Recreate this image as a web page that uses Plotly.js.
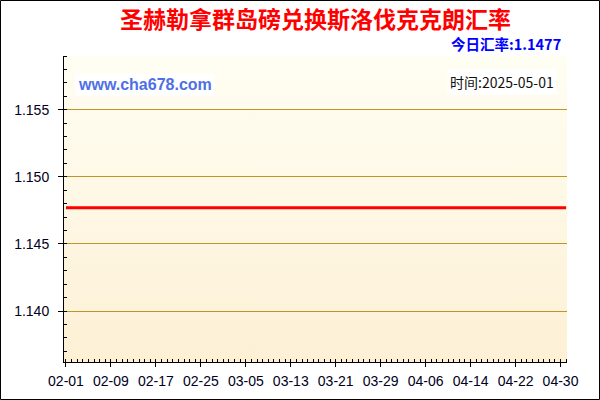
<!DOCTYPE html>
<html>
<head>
<meta charset="utf-8">
<script src="https://cdn.plot.ly/plotly-3.0.1.min.js"></script>
<style>
  body { margin: 0; padding: 0; background: #fff; }
  #myDiv { width: 600px; height: 400px; }
</style>
</head>
<body>
<div id="myDiv"></div>
<script>
// daily rate, 2025-02-01 .. 2025-05-01
var startDate = '2025-02-01';
var rates = [
  1.1477, 1.1477, 1.1477, 1.1477, 1.1477, 1.1477, 1.1477, 1.1477, 1.1477, 1.1477,
  1.1477, 1.1477, 1.1477, 1.1477, 1.1477, 1.1477, 1.1477, 1.1477, 1.1477, 1.1477,
  1.1477, 1.1477, 1.1477, 1.1477, 1.1477, 1.1477, 1.1477, 1.1477, 1.1477, 1.1477,
  1.1477, 1.1477, 1.1477, 1.1477, 1.1477, 1.1477, 1.1477, 1.1477, 1.1477, 1.1477,
  1.1477, 1.1477, 1.1477, 1.1477, 1.1477, 1.1477, 1.1477, 1.1477, 1.1477, 1.1477,
  1.1477, 1.1477, 1.1477, 1.1477, 1.1477, 1.1477, 1.1477, 1.1477, 1.1477, 1.1477,
  1.1477, 1.1477, 1.1477, 1.1477, 1.1477, 1.1477, 1.1477, 1.1477, 1.1477, 1.1477,
  1.1477, 1.1477, 1.1477, 1.1477, 1.1477, 1.1477, 1.1477, 1.1477, 1.1477, 1.1477,
  1.1477, 1.1477, 1.1477, 1.1477, 1.1477, 1.1477, 1.1477, 1.1477, 1.1477, 1.1477
];
var yTicks = [1.140, 1.145, 1.150, 1.155];
var chartTitle = '圣赫勒拿群岛磅兑换斯洛伐克克朗汇率';
var todayRate = '今日汇率:1.1477';
var siteText = 'www.cha678.com';
var timeText = '时间:2025-05-01';

var DAY = 86400000;
var t0 = new Date(startDate + 'T00:00:00Z').getTime();
var dates = rates.map(function (v, i) {
  return new Date(t0 + i * DAY).toISOString().slice(0, 10);
});

var xRange = ['2025-01-31 15:30', '2025-05-01 03:40'];
var yRange = [1.1362, 1.1590];

var bgSvg = '<svg xmlns="http://www.w3.org/2000/svg" width="10" height="100" preserveAspectRatio="none">' +
  '<defs><linearGradient id="g" x1="0" y1="0" x2="0" y2="1">' +
  '<stop offset="0" stop-color="#fffef3"/><stop offset="1" stop-color="#fdf0d5"/>' +
  '</linearGradient></defs><rect width="10" height="100" fill="url(#g)"/></svg>';

var tickFont = {family: 'Liberation Sans, Arial, sans-serif', size: 14, color: '#000022'};

var data = [{
  x: dates,
  y: rates,
  type: 'scatter',
  mode: 'lines',
  line: {color: '#ff0000', width: 3},
  hoverinfo: 'x+y'
}];

// bare axes on top / right, ticks pointing in
var xTop = {
  type: 'date', range: xRange, overlaying: 'x', side: 'top', anchor: 'y',
  tick0: startDate, dtick: 8 * DAY, ticks: 'inside', ticklen: 4, tickcolor: '#000',
  showticklabels: false, showgrid: false, zeroline: false,
  showline: true, linecolor: '#000', linewidth: 1,
  minor: {dtick: DAY, tick0: startDate, ticks: 'inside', ticklen: 3, tickcolor: '#000', showgrid: false}
};
var yRight = {
  range: yRange, overlaying: 'y', side: 'right', anchor: 'x',
  tickvals: yTicks, ticks: 'inside', ticklen: 5, tickcolor: '#000',
  showticklabels: false, showgrid: false, zeroline: false,
  showline: true, linecolor: '#000', linewidth: 1,
  minor: {dtick: 0.001, tick0: 1.140, ticks: 'inside', ticklen: 3, tickcolor: '#000', showgrid: false}
};

var layout = {
  width: 600,
  height: 400,
  margin: {l: 64, r: 33, t: 56, b: 38, pad: 0},
  paper_bgcolor: '#ffffff',
  plot_bgcolor: 'rgba(0,0,0,0)',
  showlegend: false,
  title: {
    text: chartTitle,
    font: {family: 'Noto Sans CJK SC, sans-serif', size: 23, color: '#ff0000', weight: 'bold'},
    x: 0.5, xref: 'paper', xanchor: 'center',
    y: 0.95, yref: 'container', yanchor: 'middle'
  },
  xaxis: {
    type: 'date',
    range: xRange,
    tick0: startDate,
    dtick: 8 * DAY,
    tickformat: '%m-%d',
    ticks: 'outside',
    ticklen: 4,
    tickcolor: '#000',
    showgrid: false,
    zeroline: false,
    showline: true,
    linecolor: '#000',
    linewidth: 1,
    tickfont: tickFont,
    ticklabelstandoff: 2,
    minor: {dtick: DAY, tick0: startDate, ticks: 'inside', ticklen: 3, tickcolor: '#000', showgrid: false}
  },
  yaxis: {
    range: yRange,
    tickvals: yTicks,
    tickformat: '.3f',
    ticks: 'outside',
    ticklen: 5,
    tickcolor: '#000',
    showgrid: true,
    gridcolor: '#c09428',
    gridwidth: 1,
    zeroline: false,
    showline: true,
    linecolor: '#000',
    linewidth: 1,
    tickfont: tickFont,
    ticklabelstandoff: 6,
    minor: {dtick: 0.001, tick0: 1.140, ticks: 'inside', ticklen: 3, tickcolor: '#000', showgrid: false}
  },
  xaxis2: xTop,
  yaxis2: yRight,
  images: [{
    source: 'data:image/svg+xml;charset=utf-8,' + encodeURIComponent(bgSvg),
    xref: 'paper', yref: 'paper',
    x: 0, y: 1, sizex: 1, sizey: 1,
    xanchor: 'left', yanchor: 'top',
    sizing: 'stretch',
    layer: 'below'
  }],
  shapes: [{
    type: 'rect', xref: 'paper', yref: 'paper',
    x0: -63.5 / 503, x1: 1 + 32.5 / 503,
    y0: -37.5 / 306, y1: 1 + 55.5 / 306,
    line: {color: '#000', width: 1},
    fillcolor: 'rgba(0,0,0,0)'
  }],
  annotations: [
    {
      text: todayRate,
      xref: 'paper', yref: 'paper',
      x: 1 - 4 / 503, xanchor: 'right',
      y: 1 + 12 / 306, yanchor: 'middle',
      showarrow: false,
      font: {family: 'Noto Sans CJK SC, sans-serif', size: 14.5, color: '#0000ff', weight: 'bold'}
    },
    {
      text: siteText,
      xref: 'paper', yref: 'paper',
      x: 11 / 503, xanchor: 'left',
      y: 1 - 28 / 306, yanchor: 'middle',
      showarrow: false,
      bgcolor: '#ffffff',
      borderpad: 2,
      font: {family: 'Liberation Sans, Arial, sans-serif', size: 16, color: '#4f6fe6', weight: 'bold'}
    },
    {
      text: timeText,
      xref: 'paper', yref: 'paper',
      x: 1 - 10 / 503, xanchor: 'right',
      y: 1 - 26 / 306, yanchor: 'middle',
      showarrow: false,
      bgcolor: '#ffffff',
      borderpad: 2,
      font: {family: 'Noto Sans CJK SC, sans-serif', size: 14, color: '#111111'}
    }
  ]
};

Plotly.newPlot('myDiv', data, layout, {displayModeBar: false, staticPlot: true});
</script>
</body>
</html>
